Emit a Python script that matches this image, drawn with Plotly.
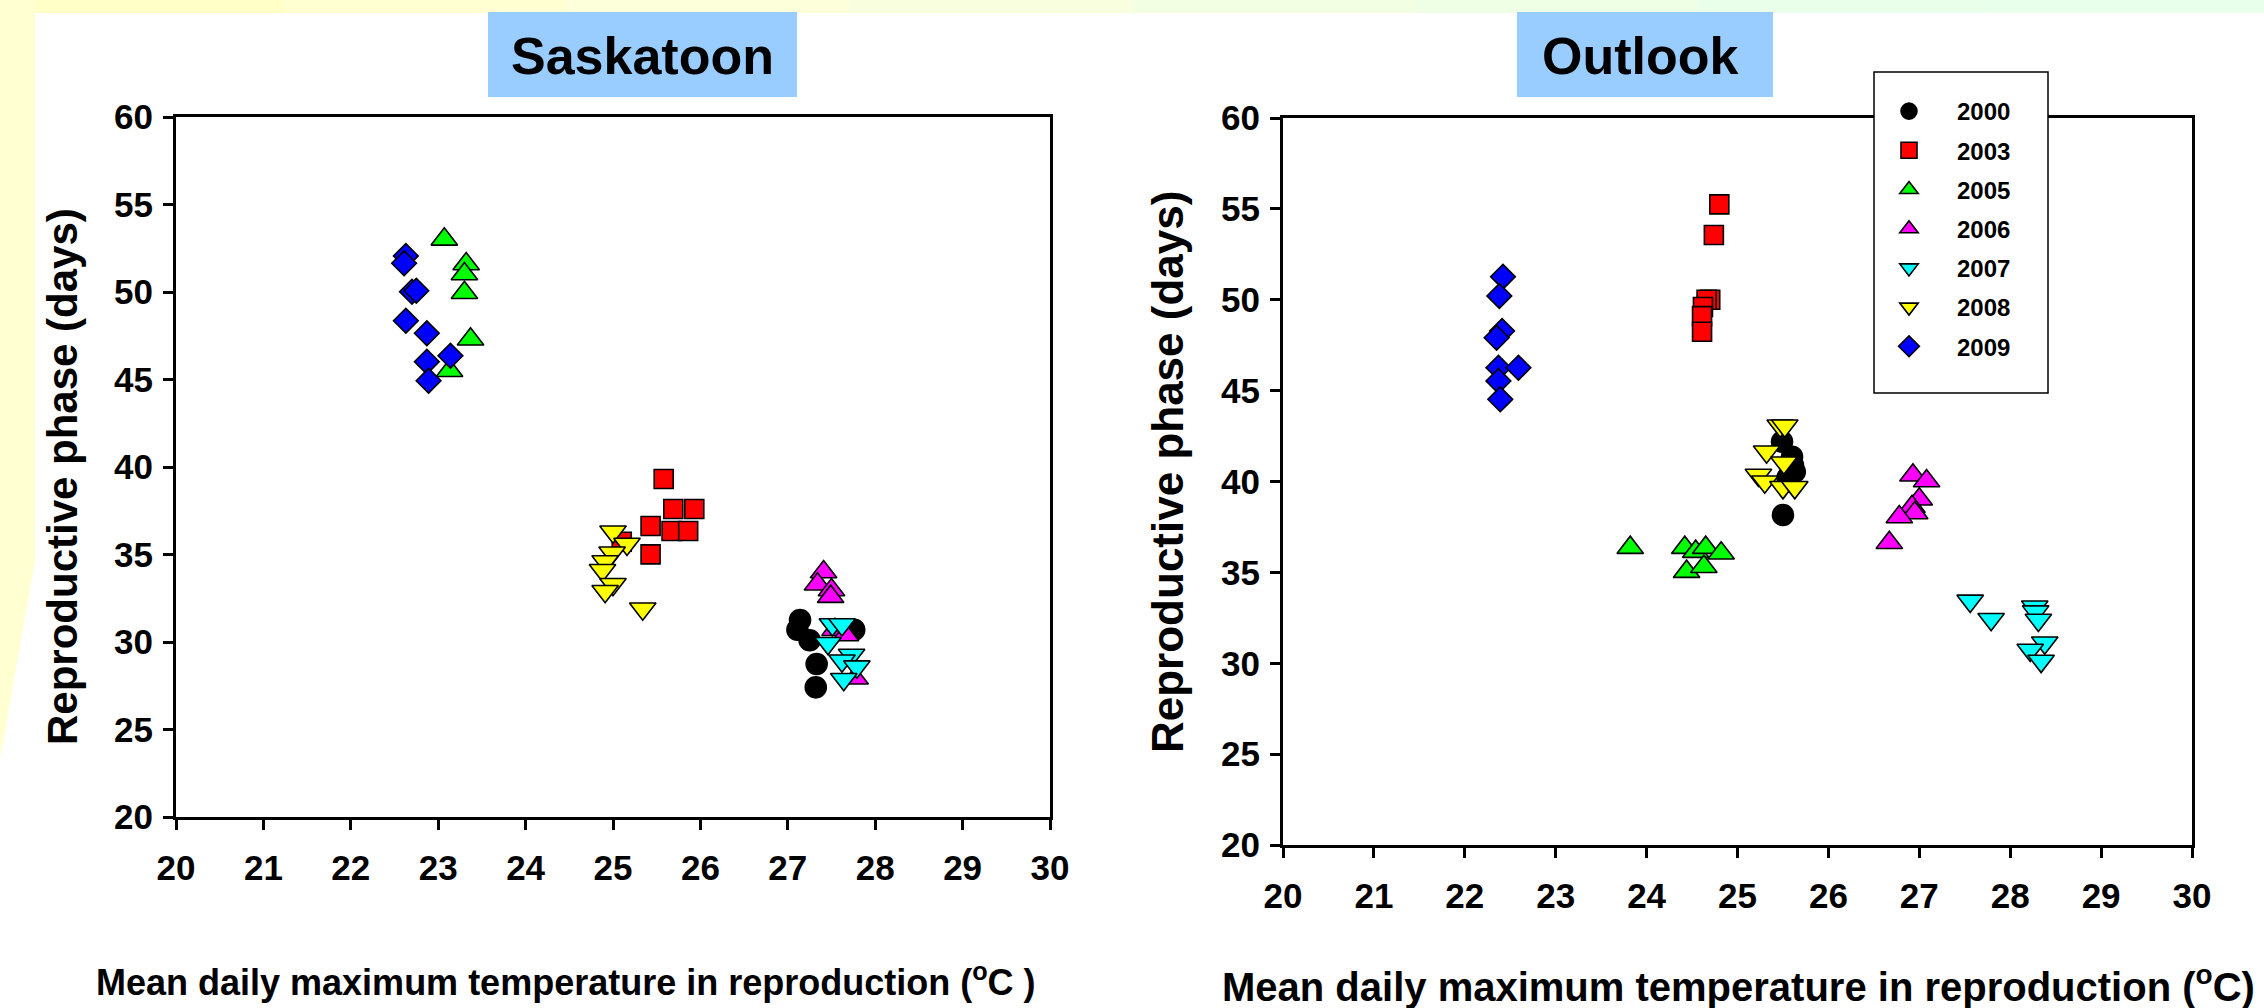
import plotly.graph_objects as go

W, H = 2264, 1008

years = ["2000", "2003", "2005", "2006", "2007", "2008", "2009"]
colors = ["#000000", "#FF0000", "#00FF00", "#FF00FF", "#00FFFF", "#FFFF00", "#0000FF"]
symbols = ["circle", "square", "triangle-up", "triangle-up", "triangle-down", "triangle-down", "diamond"]
sizes = [21, 19, 23, 23, 23, 23, 19]

x_ticks = list(range(20, 31))
y_ticks = list(range(20, 61, 5))

# ---- Saskatoon ----
sk_2000_x = [27.14, 27.11, 27.25, 27.76, 27.33, 27.32]
sk_2000_y = [31.26, 30.70, 30.10, 30.70, 28.74, 27.41]
sk_2003_x = [25.58, 25.69, 25.93, 25.43, 25.67, 25.86, 25.43, 25.10]
sk_2003_y = [39.31, 37.60, 37.60, 36.63, 36.34, 36.34, 35.01, 35.73]
sk_2005_x = [23.07, 23.32, 23.30, 23.30, 23.37, 23.13]
sk_2005_y = [53.01, 51.60, 51.03, 49.96, 47.30, 45.50]
sk_2006_x = [27.41, 27.34, 27.50, 27.49, 27.54, 27.66, 27.77]
sk_2006_y = [34.00, 33.30, 32.97, 32.59, 30.70, 30.40, 27.93]
sk_2007_x = [27.51, 27.62, 27.46, 27.73, 27.62, 27.79, 27.64]
sk_2007_y = [31.00, 31.00, 29.93, 29.26, 28.93, 28.59, 27.87]
sk_2008_x = [25.00, 25.16, 24.99, 24.91, 24.88, 25.00, 24.91, 25.34]
sk_2008_y = [36.30, 35.60, 35.10, 34.60, 34.10, 33.30, 32.90, 31.90]
sk_2009_x = [22.63, 22.61, 22.70, 22.75, 22.63, 22.87, 22.87, 23.14, 22.89]
sk_2009_y = [52.06, 51.64, 50.02, 50.07, 48.36, 47.64, 46.02, 46.36, 44.93]

# ---- Outlook ----
ol_2000_x = [25.49, 25.60, 25.61, 25.63, 25.55, 25.50]
ol_2000_y = [42.19, 41.36, 40.90, 40.54, 40.20, 38.16]
ol_2003_x = [24.80, 24.74, 24.70, 24.66, 24.62, 24.61, 24.61]
ol_2003_y = [55.25, 53.56, 50.00, 50.00, 49.60, 49.10, 48.24]
ol_2005_x = [23.82, 24.42, 24.54, 24.65, 24.82, 24.44, 24.63]
ol_2005_y = [36.36, 36.36, 36.14, 36.36, 36.05, 35.04, 35.31]
ol_2006_x = [26.93, 27.08, 27.00, 26.92, 26.95, 26.78, 26.67]
ol_2006_y = [40.34, 40.03, 39.02, 38.61, 38.27, 38.05, 36.63]
ol_2007_x = [27.56, 27.79, 28.27, 28.28, 28.31, 28.38, 28.22, 28.34]
ol_2007_y = [33.43, 32.42, 33.11, 32.84, 32.38, 31.13, 30.73, 30.12]
ol_2008_x = [25.47, 25.52, 25.32, 25.51, 25.23, 25.30, 25.50, 25.63]
ol_2008_y = [43.07, 43.07, 41.64, 41.03, 40.36, 39.99, 39.68, 39.68]
ol_2009_x = [22.42, 22.38, 22.41, 22.35, 22.37, 22.59, 22.37, 22.39]
ol_2009_y = [51.27, 50.21, 48.28, 47.91, 46.26, 46.26, 45.53, 44.52]

sk_x = [sk_2000_x, sk_2003_x, sk_2005_x, sk_2006_x, sk_2007_x, sk_2008_x, sk_2009_x]
sk_y = [sk_2000_y, sk_2003_y, sk_2005_y, sk_2006_y, sk_2007_y, sk_2008_y, sk_2009_y]
ol_x = [ol_2000_x, ol_2003_x, ol_2005_x, ol_2006_x, ol_2007_x, ol_2008_x, ol_2009_x]
ol_y = [ol_2000_y, ol_2003_y, ol_2005_y, ol_2006_y, ol_2007_y, ol_2008_y, ol_2009_y]

FONT = "Liberation Sans, Arial, sans-serif"


def px(x):
    return x / W


def py(y):
    return 1 - y / H


fig = go.Figure()

for i, yr in enumerate(years):
    mk = dict(symbol=symbols[i], color=colors[i], size=sizes[i],
              line=dict(color="black", width=1.6))
    fig.add_trace(go.Scatter(x=sk_x[i], y=sk_y[i], mode="markers", marker=mk,
                             name=yr, showlegend=False, xaxis="x", yaxis="y",
                             hoverinfo="x+y"))
for i, yr in enumerate(years):
    mk = dict(symbol=symbols[i], color=colors[i], size=sizes[i],
              line=dict(color="black", width=1.6))
    fig.add_trace(go.Scatter(x=ol_x[i], y=ol_y[i], mode="markers", marker=mk,
                             name=yr, legendgroup=yr, showlegend=True,
                             xaxis="x2", yaxis="y2", hoverinfo="x+y"))

tickfont = dict(family=FONT, size=35, color="black", weight="bold")

L_dom_x = [px(176), px(1050)]
L_dom_y = [py(817), py(117)]
R_dom_x = [px(1283), px(2192)]
R_dom_y = [py(845), py(118)]


def base_x(dom, anchor):
    return dict(domain=dom, anchor=anchor, range=[20, 30], tickvals=x_ticks,
                showgrid=False, zeroline=False, showline=True, mirror=True,
                linecolor="black", linewidth=3, ticks="outside", ticklen=10,
                tickwidth=2.5, tickcolor="black", tickfont=tickfont,
                ticklabelstandoff=8, fixedrange=True, automargin=False)


def base_y(dom, anchor):
    return dict(domain=dom, anchor=anchor, range=[20, 60], tickvals=y_ticks,
                showgrid=False, zeroline=False, showline=True, mirror=True,
                linecolor="black", linewidth=3, ticks="outside", ticklen=10,
                tickwidth=2.5, tickcolor="black", tickfont=tickfont,
                ticklabelstandoff=3, fixedrange=True, automargin=False)


def over_x(base, anchor):
    return dict(overlaying=base, anchor=anchor, side="top", range=[20, 30],
                tickvals=x_ticks, showgrid=False, zeroline=False, showline=False,
                ticks="inside", ticklen=10, tickwidth=2.5, tickcolor="black",
                showticklabels=False, fixedrange=True, automargin=False)


def over_y(base, anchor):
    return dict(overlaying=base, anchor=anchor, side="right", range=[20, 60],
                tickvals=y_ticks, showgrid=False, zeroline=False, showline=False,
                ticks="inside", ticklen=10, tickwidth=2.5, tickcolor="black",
                showticklabels=False, fixedrange=True, automargin=False)


shapes = []
# slide-like background strips
top_cols = ["#FFFFC8", "#FFFFD2", "#FDFFDA", "#F9FFDE", "#F3FFE2", "#EEFFE6", "#EAFFEA", "#E8FFEC"]
n = len(top_cols)
for k, c in enumerate(top_cols):
    shapes.append(dict(type="rect", xref="paper", yref="paper", x0=k / n, x1=(k + 1) / n,
                       y0=py(13), y1=1, fillcolor=c, line=dict(width=0), layer="below"))
shapes.append(dict(type="path", xref="paper", yref="paper",
                   path=f"M 0,1 L {px(35)},1 L {px(35)},{py(560)} L 0,{py(760)} Z",
                   fillcolor="#FFFFD2", line=dict(width=0), layer="below"))
# title boxes
shapes.append(dict(type="rect", xref="paper", yref="paper", x0=px(488), x1=px(797),
                   y0=py(97), y1=py(12), fillcolor="#99CCFF", line=dict(width=0), layer="below"))
shapes.append(dict(type="rect", xref="paper", yref="paper", x0=px(1517), x1=px(1773),
                   y0=py(97), y1=py(12), fillcolor="#99CCFF", line=dict(width=0), layer="below"))
# legend frame
shapes.append(dict(type="rect", xref="paper", yref="paper", x0=px(1874), x1=px(2048),
                   y0=py(393), y1=py(72), fillcolor="white",
                   line=dict(color="black", width=1.5), layer="above"))

ann = []
title_font = dict(family=FONT, size=52, color="black", weight="bold")
ann.append(dict(text="Saskatoon", xref="paper", yref="paper", x=px(642), y=py(56),
                xanchor="center", yanchor="middle", showarrow=False, font=title_font))
ann.append(dict(text="Outlook", xref="paper", yref="paper", x=px(1640), y=py(56),
                xanchor="center", yanchor="middle", showarrow=False, font=title_font))
ann.append(dict(text="Reproductive phase (days)", xref="paper", yref="paper",
                x=px(62), y=py(477), xanchor="center", yanchor="middle",
                textangle=-90, showarrow=False,
                font=dict(family=FONT, size=42, color="black", weight="bold")))
ann.append(dict(text="Reproductive phase (days)", xref="paper", yref="paper",
                x=px(1167), y=py(472), xanchor="center", yanchor="middle",
                textangle=-90, showarrow=False,
                font=dict(family=FONT, size=44, color="black", weight="bold")))
ann.append(dict(text="Mean daily maximum temperature in reproduction (<sup>o</sup>C )",
                xref="paper", yref="paper", x=px(566), y=py(980),
                xanchor="center", yanchor="middle", showarrow=False,
                font=dict(family=FONT, size=36, color="black", weight="bold")))
ann.append(dict(text="Mean daily maximum temperature in reproduction (<sup>o</sup>C)",
                xref="paper", yref="paper", x=px(1738), y=py(984),
                xanchor="center", yanchor="middle", showarrow=False,
                font=dict(family=FONT, size=40, color="black", weight="bold")))

fig.update_layout(
    width=W, height=H, autosize=False,
    margin=dict(l=0, r=0, t=0, b=0, pad=0, autoexpand=False),
    paper_bgcolor="white", plot_bgcolor="rgba(0,0,0,0)",
    xaxis=base_x(L_dom_x, "y"), yaxis=base_y(L_dom_y, "x"),
    xaxis2=base_x(R_dom_x, "y2"), yaxis2=base_y(R_dom_y, "x2"),
    xaxis3=over_x("x", "y"), yaxis3=over_y("y", "x"),
    xaxis4=over_x("x2", "y2"), yaxis4=over_y("y2", "x2"),
    shapes=shapes, annotations=ann,
    legend=dict(x=px(1861), y=py(89), xanchor="left", yanchor="top",
                borderwidth=0, bgcolor="rgba(0,0,0,0)",
                font=dict(family=FONT, size=24, color="black", weight="bold"),
                traceorder="grouped", tracegroupgap=5, itemwidth=86),
    showlegend=True,
)

fig.write_html("out.html", config={"responsive": False},
               post_script="document.body.style.margin='0';document.body.style.padding='0';document.body.style.overflow='hidden';")
